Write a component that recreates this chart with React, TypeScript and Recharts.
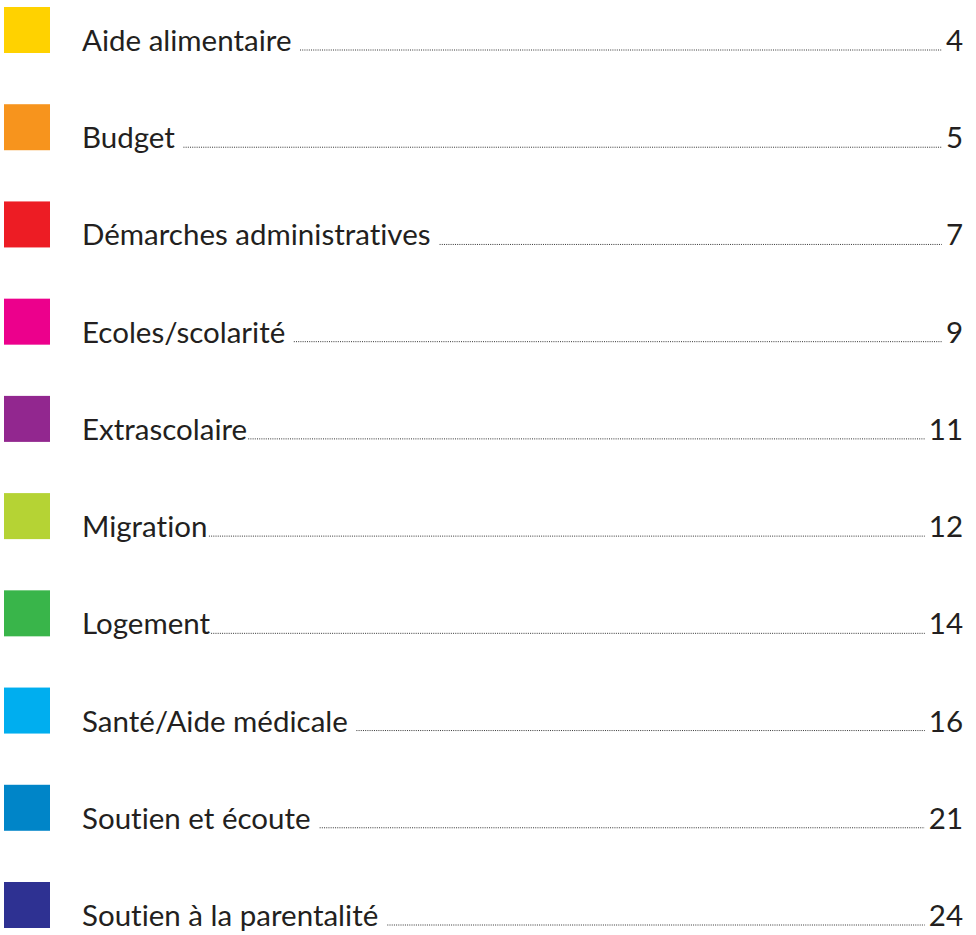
import { Scatter, ScatterChart, XAxis, YAxis } from "recharts"

// table of contents: topic, page, colour tab
const topics = [
  "Aide alimentaire ",
  "Budget ",
  "Démarches administratives ",
  "Ecoles/scolarité ",
  "Extrascolaire",
  "Migration",
  "Logement",
  "Santé/Aide médicale ",
  "Soutien et écoute ",
  "Soutien à la parentalité ",
]

const pages = [4, 5, 7, 9, 11, 12, 14, 16, 21, 24]

const colors = [
  "#FFD200",
  "#F7941D",
  "#ED1C24",
  "#EC008C",
  "#92278F",
  "#B5D334",
  "#39B54A",
  "#00AEEF",
  "#0085C8",
  "#2E3192",
]

const rows = topics.map((topic, i) => ({ topic, page: pages[i], color: colors[i] }))

const FONT = "Lato"
const SIZE = 29.5
const INK = "#231f20"

let ctx: CanvasRenderingContext2D | null = null
function textWidth(s: string) {
  if (!ctx) ctx = document.createElement("canvas").getContext("2d")
  if (!ctx) return s.length * SIZE * 0.5
  ctx.font = `${SIZE}px ${FONT}`
  return ctx.measureText(s).width
}

const textStyle = { fontVariantLigatures: "none" as const }

function TocRow(props: any) {
  const { cy, payload } = props
  if (cy == null || !payload) return <g />
  const base = cy + 21
  const labelX = 82
  const numRight = 963
  const leaderStart = labelX + textWidth(payload.topic) + 1
  const leaderEnd = numRight - textWidth(String(payload.page)) - 4
  return (
    <g>
      <rect x={4} y={cy - 23} width={46} height={46} fill={payload.color} />
      <text x={labelX} y={base} fontFamily={FONT} fontSize={SIZE} fill={INK} style={textStyle}>
        {payload.topic.trim()}
      </text>
      <line
        x1={leaderStart}
        x2={leaderEnd}
        y1={base - 1}
        y2={base - 1}
        stroke="#333"
        strokeWidth={1}
        strokeDasharray="1 1.2"
      />
      <text x={numRight} y={base} textAnchor="end" fontFamily={FONT} fontSize={SIZE} fill={INK} style={textStyle}>
        {payload.page}
      </text>
    </g>
  )
}

export default function App() {
  return (
    <div style={{ position: "absolute", left: 0, top: 0, background: "#fff" }}>
      <ScatterChart width={976} height={935} margin={{ top: 30, right: 0, bottom: 30, left: 0 }}>
        <XAxis type="number" dataKey="page" domain={[0, 30]} hide />
        <YAxis type="category" dataKey="topic" scale="point" reversed hide />
        <Scatter data={rows} shape={<TocRow />} isAnimationActive={false} />
      </ScatterChart>
    </div>
  )
}
